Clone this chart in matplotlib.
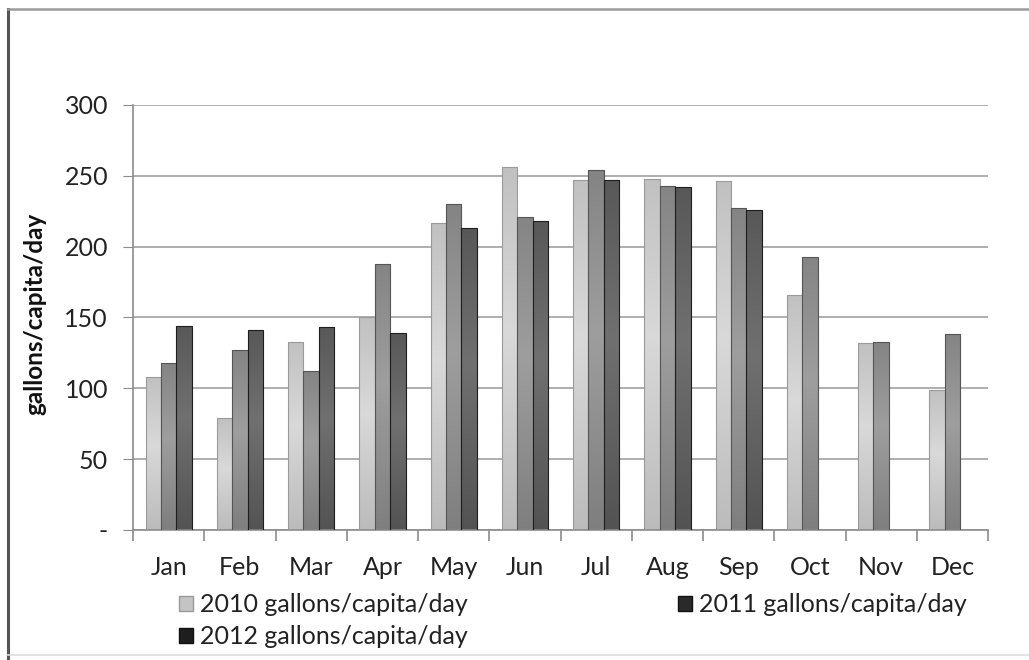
import numpy as np
import matplotlib.pyplot as plt
from matplotlib.patches import Patch
from matplotlib.lines import Line2D

months = ['Jan', 'Feb', 'Mar', 'Apr', 'May', 'Jun', 'Jul', 'Aug', 'Sep', 'Oct', 'Nov', 'Dec']
use_2010 = [108, 79, 133, 150, 217, 256, 247, 248, 246, 166, 132, 99]
use_2011 = [118, 127, 112, 188, 230, 221, 254, 243, 227, 193, 133, 138]
use_2012 = [144, 141, 143, 139, 213, 218, 247, 242, 226, np.nan, np.nan, np.nan]
series_names = ['2010 gallons/capita/day', '2011 gallons/capita/day', '2012 gallons/capita/day']

plt.rcParams['font.family'] = ['Lato', 'DejaVu Sans']

fig = plt.figure(figsize=(10.29, 6.6), dpi=100)
ax = fig.add_axes([0.1293, 0.197, 0.8309, 0.644])

x = np.arange(len(months))
w = 0.216
# (edge shade, middle shade, outline)
shades = [(0.72, 0.85, '#9a9a9a'), (0.48, 0.62, '#555555'), (0.31, 0.44, '#1e1e1e')]


def shaded_bars(vals, offset, shade):
    lo, hi, edge = shade
    bars = ax.bar(x + offset, vals, w, facecolor='none', edgecolor=edge,
                  linewidth=0.8, zorder=3)
    t = np.linspace(0, 1, 80)[:, None]
    level = lo + (hi - lo) * (1 - np.abs(t - 0.55) * 1.6).clip(0, 1)
    img = np.dstack([level, level, level])
    for b in bars:
        if not np.isfinite(b.get_height()):
            continue
        bx, by = b.get_x(), b.get_y()
        im = ax.imshow(img, extent=[bx, bx + b.get_width(), by, by + b.get_height()],
                       origin='lower', aspect='auto', zorder=2, interpolation='bilinear')
        im.set_clip_path(b)
    return bars


shaded_bars(use_2010, -w, shades[0])
shaded_bars(use_2011, 0, shades[1])
shaded_bars(use_2012, w, shades[2])

ax.set_xlim(-0.5, 11.5)
ax.set_ylim(0, 300)

# axis styling
for s in ['top', 'right']:
    ax.spines[s].set_visible(False)
for s in ['left', 'bottom']:
    ax.spines[s].set_color('#8c8c8c')
    ax.spines[s].set_linewidth(1.2)

ax.set_yticks(np.arange(0, 301, 50))
ax.set_yticklabels(['-'] + [str(v) for v in range(50, 301, 50)])
ax.yaxis.grid(True, color='#a8a8a8', linewidth=1.3)
ax.set_axisbelow(True)
ax.tick_params(axis='y', length=7, color='#8c8c8c', labelsize=18, pad=11, labelcolor='#222222')

ax.set_xticks(x)
ax.set_xticklabels(months)
ax.set_xticks(np.arange(-0.5, 12, 1), minor=True)
ax.tick_params(axis='x', which='major', length=0, labelsize=18, pad=19, labelcolor='#222222')
ax.tick_params(axis='x', which='minor', length=8, color='#8c8c8c', width=1.2)

fig.text(35 / 1029, 0.524, 'gallons/capita/day', rotation=90, fontsize=17.5,
         fontweight='bold', ha='center', va='center', color='#111111')

# legend fills column by column, so order handles to read row-wise
handles = [Patch(facecolor='#c4c4c4', edgecolor='#999999'),
           Patch(facecolor='#2a2a2a', edgecolor='#111111'),
           Patch(facecolor='#1e1e1e', edgecolor='#111111')]
order = [0, 2, 1]
leg = fig.legend([handles[i] for i in order], [series_names[i] for i in order],
                 ncol=2, loc='upper left',
                 bbox_to_anchor=(0.162, 0.12), frameon=False, fontsize=18,
                 handlelength=0.55, handleheight=0.55, handletextpad=0.3,
                 columnspacing=8.4, labelspacing=0.36, borderpad=0)
for t in leg.get_texts():
    t.set_color('#222222')

# outer frame
fig.add_artist(Line2D([8 / 1029, 8 / 1029], [0, 1 - 9 / 660], color='#555555', linewidth=2.2))
fig.add_artist(Line2D([8 / 1029, 1], [1 - 9 / 660, 1 - 9 / 660], color='#9a9a9a', linewidth=1.8))
fig.add_artist(Line2D([8 / 1029, 1], [1 - 655 / 660, 1 - 655 / 660], color='#dddddd', linewidth=1.2))

plt.savefig('out.png', dpi=100)
